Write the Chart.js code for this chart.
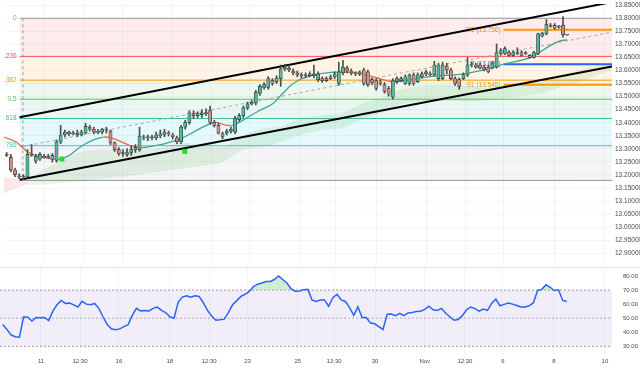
<!DOCTYPE html>
<html>
<head>
<meta charset="utf-8">
<script src="https://cdn.jsdelivr.net/npm/chart.js@4.4.0/dist/chart.umd.min.js"></script>
<style>
  html, body { margin: 0; padding: 0; background: #fff; }
  #wrap { position: relative; width: 640px; height: 368px; overflow: hidden; }
  #mainBox { position: absolute; left: 0; top: 0; width: 640px; height: 267px; }
  #rsiBox { position: absolute; left: 0; top: 267px; width: 640px; height: 101px; border-top: 1px solid #dcdfe6; }
</style>
</head>
<body>
<div id="wrap">
  <div id="mainBox"><canvas id="main" width="640" height="267"></canvas></div>
  <div id="rsiBox"><canvas id="rsi" width="640" height="100"></canvas></div>
</div>
<script>
/* ==========================================
   DATA (4H candles)
========================================== */

const openP = [13.279,13.267,13.219,13.197,13.193,13.193,13.279,13.253,13.260,13.271,
  13.267,13.260,13.256,13.327,13.353,13.364,13.357,13.360,13.353,13.360,
  13.383,13.375,13.364,13.364,13.375,13.368,13.323,13.297,13.282,13.286,
  13.286,13.297,13.297,13.346,13.342,13.346,13.342,13.349,13.353,13.360,
  13.353,13.342,13.327,13.383,13.401,13.435,13.427,13.431,13.435,13.446,
  13.401,13.390,13.357,13.360,13.368,13.364,13.412,13.427,13.457,13.472,
  13.476,13.513,13.535,13.535,13.561,13.557,13.569,13.606,13.609,13.598,
  13.591,13.583,13.580,13.580,13.580,13.565,13.569,13.561,13.569,13.576,
  13.550,13.591,13.609,13.598,13.591,13.587,13.602,13.595,13.565,13.561,
  13.557,13.546,13.531,13.498,13.557,13.561,13.550,13.550,13.583,13.557,
  13.576,13.587,13.587,13.583,13.569,13.569,13.617,13.602,13.569,13.565,
  13.569,13.583,13.621,13.621,13.621,13.613,13.613,13.609,13.613,13.665,
  13.665,13.669,13.658,13.669,13.669,13.665,13.658,13.650,13.665,13.732,
  13.740,13.773,13.773,13.766,13.773,13.736];

const highP = [13.286,13.279,13.226,13.204,13.201,13.297,13.316,13.279,13.286,13.279,
  13.279,13.282,13.334,13.390,13.372,13.368,13.368,13.372,13.372,13.398,
  13.390,13.383,13.375,13.379,13.383,13.372,13.327,13.305,13.297,13.301,
  13.312,13.316,13.383,13.353,13.353,13.353,13.364,13.372,13.375,13.368,
  13.360,13.349,13.390,13.409,13.446,13.446,13.442,13.450,13.453,13.464,
  13.409,13.398,13.364,13.375,13.383,13.424,13.435,13.464,13.479,13.487,
  13.524,13.546,13.554,13.576,13.569,13.580,13.621,13.624,13.621,13.606,
  13.598,13.591,13.591,13.595,13.621,13.595,13.576,13.576,13.583,13.595,
  13.632,13.639,13.617,13.606,13.595,13.598,13.609,13.602,13.572,13.569,
  13.565,13.554,13.539,13.569,13.576,13.576,13.583,13.587,13.591,13.591,
  13.595,13.602,13.595,13.635,13.628,13.632,13.628,13.609,13.576,13.572,
  13.591,13.650,13.632,13.628,13.628,13.621,13.621,13.635,13.702,13.684,
  13.691,13.676,13.676,13.687,13.676,13.673,13.661,13.673,13.743,13.747,
  13.795,13.780,13.780,13.773,13.806,13.737];

const lowP = [13.271,13.212,13.193,13.186,13.182,13.189,13.271,13.245,13.256,13.264,
  13.264,13.249,13.249,13.320,13.346,13.349,13.353,13.346,13.349,13.357,
  13.368,13.357,13.357,13.357,13.360,13.316,13.290,13.275,13.271,13.271,
  13.275,13.286,13.290,13.334,13.331,13.334,13.334,13.342,13.346,13.349,
  13.338,13.320,13.320,13.375,13.394,13.416,13.420,13.420,13.427,13.394,
  13.383,13.357,13.338,13.353,13.360,13.357,13.405,13.420,13.450,13.468,
  13.468,13.505,13.528,13.528,13.543,13.550,13.539,13.598,13.595,13.583,
  13.576,13.572,13.572,13.576,13.572,13.557,13.554,13.557,13.565,13.569,
  13.543,13.583,13.591,13.583,13.580,13.580,13.543,13.539,13.546,13.524,
  13.543,13.513,13.502,13.490,13.550,13.557,13.546,13.543,13.543,13.554,
  13.572,13.580,13.580,13.580,13.561,13.565,13.587,13.565,13.543,13.528,
  13.565,13.576,13.613,13.609,13.606,13.598,13.591,13.606,13.609,13.658,
  13.661,13.654,13.654,13.661,13.654,13.661,13.647,13.647,13.661,13.728,
  13.736,13.766,13.758,13.762,13.728,13.735];

const closeP = [13.275,13.219,13.201,13.193,13.197,13.279,13.275,13.271,13.279,13.267,
  13.271,13.275,13.327,13.353,13.364,13.357,13.360,13.353,13.364,13.386,
  13.375,13.364,13.368,13.375,13.372,13.323,13.297,13.282,13.286,13.279,
  13.297,13.305,13.349,13.342,13.346,13.342,13.353,13.357,13.364,13.357,
  13.346,13.327,13.383,13.401,13.438,13.427,13.435,13.438,13.438,13.401,
  13.390,13.360,13.346,13.368,13.375,13.416,13.427,13.457,13.472,13.479,
  13.517,13.539,13.546,13.569,13.550,13.572,13.606,13.613,13.602,13.591,
  13.583,13.580,13.583,13.587,13.587,13.587,13.561,13.569,13.576,13.587,
  13.595,13.613,13.598,13.591,13.587,13.595,13.550,13.546,13.554,13.531,
  13.550,13.520,13.509,13.561,13.569,13.569,13.576,13.583,13.550,13.583,
  13.587,13.595,13.583,13.621,13.621,13.621,13.602,13.569,13.550,13.539,
  13.583,13.621,13.624,13.613,13.609,13.602,13.595,13.628,13.669,13.676,
  13.684,13.658,13.669,13.665,13.658,13.669,13.650,13.669,13.740,13.743,
  13.777,13.769,13.762,13.769,13.736,13.736];

const rsiVals = [45.5,42,38,36.8,36.5,51,50.7,48,50.5,50.3,
  50.5,48.3,55,59.5,62.6,60.5,60.7,59.5,58,62,
  60,59.5,60.5,57,51,45.5,42.5,41.8,42.4,44,
  45.3,52,57,55.2,55.4,55.2,57,57.9,55.5,54,
  51,50,61.5,65,66,65,66,65.5,61,55.5,
  51.5,48.5,48.8,49.3,54,59.5,62.5,65.5,67,69,
  72.5,74.2,75,76.1,76.1,77.5,80,77.5,75,71,
  69.2,69.3,70.2,70.5,63,61.9,63,63,58.5,64.5,
  67,63,61.9,57.5,52,58,50.5,50.5,46.5,46,
  44,42,52.8,53,51.8,53.5,51.8,53.7,54,54.8,
  55,56.2,58.5,56,55.5,57,53.5,51,48.5,49,
  51.8,56,57.9,56.8,55,56.5,55.5,60.5,63.6,58.8,
  59.8,60.7,60,59,57.9,57.9,58.8,61,69.7,70.5,
  73.8,72,69.7,70.2,62.6,61.9];

// moving average (points along the line)
const maIdx = [-0.65,2.2,5.3,8.9,12.5,15.1,17.8,20.9,23.3,25.2,27.6,30.5,32.8,35.7,38.8,42.4,
  47.2,50.3,52.5,54.4,56.8,60.8,64.0,66.3,68.7,71.1,75.2,80.7,85.5,89.1,92.7,95.0,
  99.8,104.6,110.1,115.9,119.7,126.2,130.9,133.3,135.0];
const maVals = [13.345,13.327,13.286,13.267,13.260,13.275,13.308,13.334,13.345,13.342,13.327,13.308,13.305,13.312,13.323,13.342,
  13.383,13.401,13.392,13.390,13.409,13.446,13.472,13.509,13.546,13.569,13.587,13.595,13.587,13.572,13.557,13.559,
  13.572,13.580,13.587,13.606,13.624,13.650,13.695,13.713,13.717];

// ichimoku cloud
const cloudIdx = [5,9,14,18,23,28,33,38,42,47,52,57,62,66,71,76,81,86,90,95,100,105,109,114,119,124,129,133,138,143,146];
const cloudTop = [13.178,13.223,13.260,13.290,13.297,13.297,13.297,13.308,13.323,13.316,13.308,13.353,13.379,13.386,13.416,13.427,
  13.438,13.476,13.494,13.528,13.542,13.546,13.546,13.535,13.542,13.550,13.557,13.580,13.602,13.620,13.628];
const cloudBot = [13.163,13.163,13.171,13.178,13.186,13.193,13.204,13.215,13.223,13.234,13.249,13.297,13.308,13.327,13.353,13.372,
  13.379,13.416,13.435,13.472,13.483,13.483,13.483,13.483,13.490,13.502,13.513,13.535,13.557,13.587,13.602];
const redCloudIdx = [-0.65, 2, 5];
const redCloudTop = [13.192, 13.186, 13.178];
const redCloudBot = [13.128, 13.148, 13.163];

// fibonacci retracement
const fibNames = ["0", ".236", ".382", "0.5", ".618", ".786", ""];
const fibPrices = [13.800, 13.654, 13.563, 13.490, 13.416, 13.312, 13.179];
const fibFrom = 3.1;
const fibAnchorIdx = 3.9;

// trend channel and midline [idx, price]
const channelUpper = [[3.1, 13.421], [145.8, 13.862]];
const channelLower = [[3.1, 13.182], [145.8, 13.615]];
const midLine = [[3.9, 13.309], [145.8, 13.747]];

// pivots
const pivotNames = ["R1", "P", "S1"];
const pivotPrices = [13.756, 13.624, 13.545];
const pivotFrom = 119.7;

// signal markers
const signalIdx = [13.3, 42.9];
const signalPrice = [13.261, 13.290];

// axes
const priceTicks = [13.85,13.80,13.75,13.70,13.65,13.60,13.55,13.50,13.45,13.40,13.35,13.30,13.25,13.20,13.15,13.10,13.05,13.00,12.95,12.90];
const rsiTicks = [80, 70, 60, 50, 40, 30];
const timeTickPos = [9.16, 18.5, 27.8, 40.0, 49.4, 58.6, 70.6, 79.3, 89.1, 101.0, 110.6, 119.7, 131.9, 144.1];
const timeTickLabels = ["11", "12:30", "16", "18", "12:30", "23", "25", "12:30", "30", "Nov", "12:30", "6", "8", "10"];


/* ==========================================
   STYLE
========================================== */

Chart.defaults.font.family = '"Liberation Sans", Arial, sans-serif';

const X_MIN = -0.65;
const X_MAX = 145.8;
const AXIS_W = 28;

const fibLineColors = ["#9598a1", "#f7525f", "#ff9800", "#66bb6a", "#3fb8a5", "#3cc8dc", "#9598a1"];
const fibZoneColors = ["rgba(242,54,69,0.1)", "rgba(255,152,0,0.1)", "rgba(76,175,80,0.1)",
  "rgba(8,153,129,0.09)", "rgba(0,188,212,0.1)", "rgba(120,123,134,0.08)"];
const pivotColors = ["#ff9800", "#2962ff", "#ff9800"];

function seg(a) {
    return a.map(p => ({ x: p[0], y: p[1] }));
}

function flatLine(from, to, v) {
    return [{ x: from, y: v }, { x: to, y: v }];
}


/* ==========================================
   MAIN PRICE CHART
========================================== */

const datasets = [];

// fib levels + zones
fibPrices.forEach((p, k) => {
    datasets.push({
        type: "line",
        data: flatLine(fibFrom, X_MAX, p),
        borderColor: fibLineColors[k],
        borderWidth: 1,
        pointRadius: 0,
        fill: k < fibPrices.length - 1 ? "+1" : false,
        backgroundColor: k < fibPrices.length - 1 ? fibZoneColors[k] : "transparent",
        order: 20
    });
});

datasets.push({
    type: "line",
    data: [{ x: fibAnchorIdx, y: fibPrices[0] }, { x: fibAnchorIdx, y: fibPrices[6] }],
    borderColor: "#9598a1",
    borderWidth: 1,
    borderDash: [3, 3],
    pointRadius: 0,
    order: 15
});

// clouds
datasets.push({
    type: "line",
    data: cloudIdx.map((v, i) => ({ x: v, y: cloudTop[i] })),
    borderWidth: 0,
    pointRadius: 0,
    tension: 0.3,
    fill: "+1",
    backgroundColor: "rgba(76,175,80,0.13)",
    order: 12
});
datasets.push({
    type: "line",
    data: cloudIdx.map((v, i) => ({ x: v, y: cloudBot[i] })),
    borderWidth: 0,
    pointRadius: 0,
    tension: 0.3,
    order: 12
});
datasets.push({
    type: "line",
    data: redCloudIdx.map((v, i) => ({ x: v, y: redCloudTop[i] })),
    borderWidth: 0,
    pointRadius: 0,
    fill: "+1",
    backgroundColor: "rgba(242,54,69,0.12)",
    order: 12
});
datasets.push({
    type: "line",
    data: redCloudIdx.map((v, i) => ({ x: v, y: redCloudBot[i] })),
    borderWidth: 0,
    pointRadius: 0,
    order: 12
});

// channel
[channelUpper, channelLower].forEach(c => {
    datasets.push({
        type: "line",
        data: seg(c),
        borderColor: "#000",
        borderWidth: 2,
        pointRadius: 0,
        order: 6
    });
});

datasets.push({
    type: "line",
    data: seg(midLine),
    borderColor: "#a3a6ae",
    borderWidth: 1,
    borderDash: [3, 3],
    pointRadius: 0,
    order: 7
});

// pivots
pivotPrices.forEach((p, k) => {
    datasets.push({
        type: "line",
        data: flatLine(pivotFrom, X_MAX, p),
        borderColor: pivotColors[k],
        borderWidth: 2,
        pointRadius: 0,
        order: 6
    });
});

// moving average
datasets.push({
    type: "line",
    data: maIdx.map((v, i) => ({ x: v, y: maVals[i] })),
    borderWidth: 1.3,
    pointRadius: 0,
    tension: 0.35,
    borderColor: "#35a992",
    segment: {
        borderColor: ctx => ctx.p1.parsed.y < ctx.p0.parsed.y ? "#ec6a4a" : "#35a992"
    },
    order: 4
});

// wicks
datasets.push({
    type: "bar",
    data: lowP.map((l, i) => ({ x: i, y: [l, highP[i]] })),
    backgroundColor: "#4a4f4e",
    barThickness: 1,
    grouped: false,
    order: 3
});

// bodies
datasets.push({
    type: "bar",
    data: openP.map((o, i) => ({ x: i, y: [o, closeP[i]] })),
    backgroundColor: openP.map((o, i) => closeP[i] >= o ? "#55b7a0" : "#d68c86"),
    borderColor: "#2c3a37",
    borderWidth: 0.7,
    borderSkipped: false,
    barThickness: 3.2,
    minBarLength: 1,
    grouped: false,
    order: 2
});

// signals
datasets.push({
    type: "line",
    data: signalIdx.map((v, i) => ({ x: v, y: signalPrice[i] })),
    showLine: false,
    pointStyle: "rect",
    pointRadius: 3.5,
    pointBackgroundColor: "#1fe01f",
    pointBorderWidth: 0,
    order: 1
});

const labelPlugin = {
    id: "levelLabels",
    beforeDatasetsDraw(chart) {
        const { ctx, scales: { x, y } } = chart;
        ctx.save();
        ctx.font = '6.5px "Liberation Sans", Arial, sans-serif';
        ctx.textBaseline = "middle";
        ctx.textAlign = "right";
        fibNames.forEach((name, k) => {
            ctx.fillStyle = fibLineColors[k];
            ctx.fillText(name, x.getPixelForValue(fibFrom) - 3, y.getPixelForValue(fibPrices[k]));
        });
        pivotNames.forEach((name, k) => {
            ctx.fillStyle = pivotColors[k];
            ctx.fillText(name + " (" + pivotPrices[k].toFixed(3) + ")",
                x.getPixelForValue(pivotFrom) - 3, y.getPixelForValue(pivotPrices[k]));
        });
        ctx.restore();
    }
};

function fixY(scale) {
    scale.width = AXIS_W;
    scale.paddingTop = 0;
    scale.paddingBottom = 0;
}

function fixX(h) {
    return scale => {
        scale.height = h;
        scale.paddingLeft = 0;
        scale.paddingRight = 0;
    };
}

new Chart(document.getElementById("main"), {
    type: "bar",
    data: { datasets: datasets },
    plugins: [labelPlugin],
    options: {
        responsive: false,
        animation: false,
        events: [],
        layout: { padding: 0 },
        plugins: { legend: { display: false }, tooltip: { enabled: false } },
        scales: {
            x: {
                type: "linear",
                min: X_MIN,
                max: X_MAX,
                offset: false,
                afterBuildTicks: s => { s.ticks = timeTickPos.map(v => ({ value: v })); },
                afterFit: fixX(0),
                ticks: { display: false },
                grid: { color: "rgba(0,0,0,0.045)", drawTicks: false, offset: false },
                border: { display: false }
            },
            y: {
                position: "right",
                min: 12.8628,
                max: 13.8546,
                afterBuildTicks: s => { s.ticks = priceTicks.map(v => ({ value: v })); },
                afterFit: fixY,
                ticks: {
                    color: "#4a4a4a",
                    padding: 3,
                    font: { size: 6.5 },
                    callback: v => Number(v).toFixed(5)
                },
                grid: { color: "rgba(0,0,0,0.04)", drawTicks: false },
                border: { display: false }
            }
        }
    }
});


/* ==========================================
   RSI PANEL
========================================== */

new Chart(document.getElementById("rsi"), {
    type: "line",
    data: {
        datasets: [
            {
                data: flatLine(X_MIN, X_MAX, 70),
                borderColor: "#9a9ca3",
                borderWidth: 1,
                borderDash: [2, 2],
                pointRadius: 0,
                fill: { value: 30 },
                backgroundColor: "rgba(126,87,194,0.1)",
                order: 5
            },
            {
                data: flatLine(X_MIN, X_MAX, 50),
                borderColor: "#b2b4bb",
                borderWidth: 1,
                borderDash: [2, 2],
                pointRadius: 0,
                order: 5
            },
            {
                data: flatLine(X_MIN, X_MAX, 30),
                borderColor: "#9a9ca3",
                borderWidth: 1,
                borderDash: [2, 2],
                pointRadius: 0,
                order: 5
            },
            {
                data: rsiVals.map((v, i) => ({ x: i, y: v })),
                borderColor: "#2962ff",
                borderWidth: 1.5,
                pointRadius: 0,
                fill: { target: { value: 70 }, above: "rgba(76,175,80,0.25)", below: "rgba(0,0,0,0)" },
                order: 1
            }
        ]
    },
    options: {
        responsive: false,
        animation: false,
        events: [],
        layout: { padding: 0 },
        plugins: { legend: { display: false }, tooltip: { enabled: false } },
        scales: {
            x: {
                type: "linear",
                min: X_MIN,
                max: X_MAX,
                afterBuildTicks: s => { s.ticks = timeTickPos.map(v => ({ value: v })); },
                afterFit: fixX(13),
                ticks: {
                    autoSkip: false,
                    maxRotation: 0,
                    padding: 3,
                    color: "#4a4a4a",
                    font: { size: 6 },
                    callback: (v, i) => timeTickLabels[i]
                },
                grid: { color: "rgba(0,0,0,0.045)", drawTicks: false },
                border: { display: false }
            },
            y: {
                position: "right",
                min: 23.81,
                max: 85.69,
                afterBuildTicks: s => { s.ticks = rsiTicks.map(v => ({ value: v })); },
                afterFit: fixY,
                ticks: {
                    color: "#4a4a4a",
                    padding: 3,
                    font: { size: 6 },
                    callback: v => Number(v).toFixed(2)
                },
                grid: { display: false },
                border: { display: false }
            }
        }
    }
});
</script>
</body>
</html>
